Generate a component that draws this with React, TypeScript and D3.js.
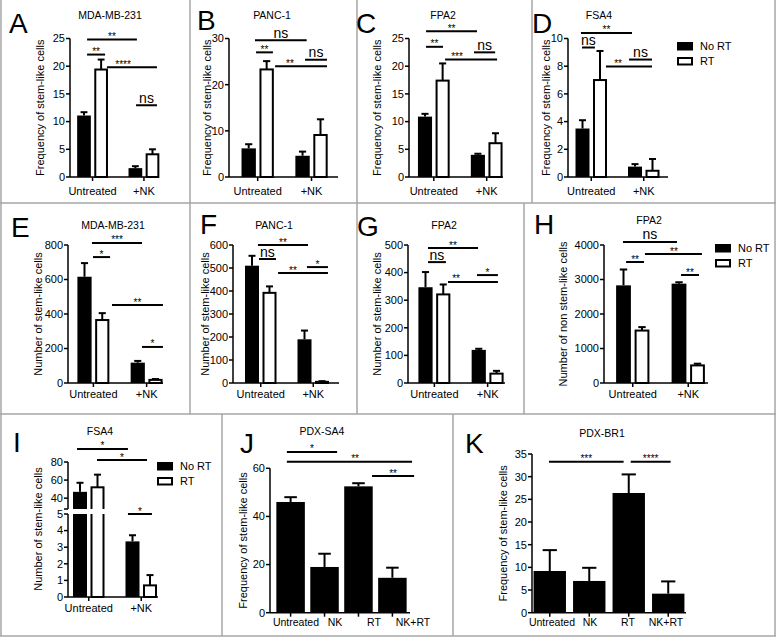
import React from "react";
import * as d3 from "d3";

const FONT = "'Liberation Sans', Arial, Helvetica, sans-serif";

// categories and legend
const groups2 = ["Untreated", "+NK"];
const groups4 = ["Untreated", "NK", "RT", "NK+RT"];
const seriesNames = ["No RT", "RT"];

// sig bars: [from, to, level, label, labelAt?]
// from/to in bar slots: 0,1 = Untreated (No RT, RT), 3,4 = +NK (No RT, RT)
type Sig = [number, number, number, string, number?];

// A - MDA-MB-231, frequency
const aNoRT = [11.1, 1.6];
const aNoRTErr = [11.7, 1.95];
const aRT = [19.4, 4.1];
const aRTErr = [21.2, 5.0];
const aTicks = [0, 5, 10, 15, 20, 25];
const aSig: Sig[] = [
  [0.18, 3.09, 24.8, "**"],
  [0.18, 1.23, 22.1, "**"],
  [1.34, 4.26, 19.8, "****", 2.28],
  [3.04, 4.26, 12.95, "ns"],
];

// B - PANC-1, frequency
const bNoRT = [6.2, 4.6];
const bNoRTErr = [7.1, 5.5];
const bRT = [23.3, 9.1];
const bRTErr = [25.1, 12.5];
const bTicks = [0, 10, 20, 30];
const bSig: Sig[] = [
  [0.35, 3.23, 29.6, "ns"],
  [0.41, 1.35, 27.0, "**"],
  [3.14, 4.36, 25.4, "ns"],
  [1.47, 4.36, 24.0, "**", 2.3],
];

// C - FPA2, frequency
const cNoRT = [10.9, 4.0];
const cNoRTErr = [11.4, 4.2];
const cRT = [17.4, 6.1];
const cRTErr = [20.5, 7.9];
const cTicks = [0, 5, 10, 15, 20, 25];
const cSig: Sig[] = [
  [0.06, 2.95, 26.3, "**"],
  [0.06, 1.02, 23.5, "**"],
  [2.78, 3.98, 22.5, "ns"],
  [1.14, 4.09, 21.2, "***", 1.82],
];

// D - FSA4, frequency
const dNoRT = [3.5, 0.75];
const dNoRTErr = [4.1, 0.93];
const dRT = [7.0, 0.45];
const dRTErr = [9.1, 1.3];
const dTicks = [0, 2, 4, 6, 8, 10];
const dSig: Sig[] = [
  [-0.09, 2.83, 10.4, "**"],
  [-0.03, 0.71, 9.35, "ns"],
  [2.66, 3.97, 8.48, "ns"],
  [1.34, 3.97, 7.97, "**", 2.03],
];

// E - MDA-MB-231, number
const eNoRT = [616, 118];
const eNoRTErr = [695, 128];
const eRT = [365, 18];
const eRTErr = [405, 23];
const eTicks = [0, 200, 400, 600, 800];
const eSig: Sig[] = [
  [0.42, 3.24, 812, "***"],
  [0.48, 1.44, 730, "*"],
  [1.55, 4.42, 452, "**"],
  [3.24, 4.42, 209, "*"],
];

// F - PANC-1, number
const fNoRT = [510, 190];
const fNoRTErr = [553, 228];
const fRT = [392, 5];
const fRTErr = [420, 8];
const fTicks = [0, 100, 200, 300, 400, 500, 600];
const fSig: Sig[] = [
  [0.34, 3.2, 600, "**"],
  [0.4, 1.37, 539, "ns"],
  [3.14, 4.34, 504, "*"],
  [1.49, 4.34, 478, "**", 2.34],
];

// G - FPA2, number
const gNoRT = [347, 120];
const gNoRTErr = [402, 124];
const gRT = [321, 34];
const gRTErr = [357, 44];
const gTicks = [0, 100, 200, 300, 400, 500];
const gSig: Sig[] = [
  [0.14, 2.96, 489, "**"],
  [0.14, 1.15, 438, "ns"],
  [2.9, 4.08, 391, "*"],
  [1.27, 4.08, 366, "**", 1.72],
];

// H - FPA2, non stem-like
const hNoRT = [2830, 2880];
const hNoRTErr = [3290, 2920];
const hRT = [1520, 510];
const hRTErr = [1620, 560];
const hTicks = [0, 1000, 2000, 3000, 4000];
const hSig: Sig[] = [
  [-0.03, 2.89, 4087, "ns"],
  [1.16, 4.24, 3739, "**", 2.73],
  [0.14, 1.11, 3507, "**"],
  [3.11, 4.08, 3130, "**"],
];

// I - FSA4, number, broken axis
const iNoRT = [47, 3.35];
const iNoRTErr = [57, 3.72];
const iRT = [52, 0.7];
const iRTErr = [66, 1.32];
const iTicksLo = [0, 1, 2, 3, 4, 5];
const iTicksHi = [40, 60, 80];
const iSig: [number, number, number, string, string][] = [
  [-0.17, 2.74, 94.4, "*", "hi"],
  [0.97, 3.83, 82.2, "*", "hi"],
  [2.74, 4.11, 5.0, "*", "lo"],
];

// J - PDX-SA4 (group index units)
const jMean = [46, 19, 52.5, 14.5];
const jErr = [48, 24.5, 53.8, 18.7];
const jTicks = [0, 20, 40, 60];
const jSig: Sig[] = [
  [-0.11, 1.37, 66.8, "*"],
  [-0.11, 3.58, 62.7, "**", 1.9],
  [2.4, 3.64, 56.8, "**"],
];

// K - PDX-BR1
const kMean = [9.2, 7.0, 26.4, 4.2];
const kErr = [13.8, 9.9, 30.5, 6.9];
const kTicks = [0, 5, 10, 15, 20, 25, 30, 35];
const kSig: Sig[] = [
  [-0.02, 1.87, 33.3, "***"],
  [2.05, 3.06, 33.3, "****"],
];

const FREQ = "Frequency of stem-like cells";
const NUM = "Number of stem-like cells";
const NONSTEM = "Number of non stem-like cells";

function Legend({ x, y }: { x: number; y: number }) {
  return (
    <g fontFamily={FONT} fontSize={11}>
      {seriesNames.map((n, i) => (
        <g key={n}>
          <rect x={x + 1} y={y + i * 15 + 1} width={14} height={6.5}
            fill={i ? "#fff" : "#000"} stroke="#000" strokeWidth={2} />
          <text x={x + 23} y={y + i * 15 + 8}>{n}</text>
        </g>
      ))}
    </g>
  );
}

function SigMark({ x1, x2, yy, label, lx }: any) {
  const ns = label === "ns";
  return (
    <g>
      <line x1={x1} x2={x2} y1={yy} y2={yy} stroke="#000" strokeWidth={2} />
      <text x={lx} y={ns ? yy - 2.5 : yy + 0.5} textAnchor="middle"
        fontSize={ns ? 14 : 10} fontFamily={FONT}>{label}</text>
    </g>
  );
}

function Head({ l }: any) {
  return (
    <g fontFamily={FONT}>
      <text x={l.letterX} y={l.letterY} fontSize={28}>{l.letter}</text>
      <text x={l.titleX} y={l.titleY} fontSize={10.5} textAnchor="middle">{l.title}</text>
      <text transform={`translate(${l.yLabelX},${l.yMid}) rotate(-90)`} fontSize={11}
        textAnchor="middle" dy="0.35em">{l.yLabel}</text>
    </g>
  );
}

function YAxis({ x, y, ticks, from, to }: any) {
  return (
    <g fontFamily={FONT} fontSize={11}>
      <line x1={x} x2={x} y1={y(from)} y2={y(to)} stroke="#000" strokeWidth={1.5} />
      {ticks.map((t: number) => (
        <g key={t}>
          <line x1={x - 4} x2={x} y1={y(t)} y2={y(t)} stroke="#000" strokeWidth={1.5} />
          <text x={x - 5} y={y(t)} dy="0.35em" textAnchor="end">{t}</text>
        </g>
      ))}
    </g>
  );
}

function Panel2({ d, l }: any) {
  const x = d3.scaleLinear().domain([0, 4]).range([l.c0, l.c4]);
  const top = d.ticks[d.ticks.length - 1];
  const y = d3.scaleLinear().domain([0, top]).range([l.y0, l.y1]);
  const bw = (x(1) - x(0)) * 0.8;
  const bars: any[] = [];
  d.series.forEach((s: any, si: number) =>
    s.mean.forEach((m: number, gi: number) =>
      bars.push({ slot: gi * 3 + si, m, e: s.err[gi], si })
    )
  );
  return (
    <g>
      <Head l={{ ...l, yMid: (l.y0 + l.y1) / 2 }} />
      {bars.map((b, i) => (
        <g key={i}>
          <line x1={x(b.slot)} x2={x(b.slot)} y1={y(b.m)} y2={y(b.e)} stroke="#000" strokeWidth={2} />
          <line x1={x(b.slot) - bw / 4} x2={x(b.slot) + bw / 4} y1={y(b.e)} y2={y(b.e)} stroke="#000" strokeWidth={2} />
          <rect x={x(b.slot) - bw / 2 + (b.si ? 1 : 0)} y={y(b.m)}
            width={bw - (b.si ? 2 : 0)} height={y(0) - y(b.m)}
            fill={b.si ? "#fff" : "#000"} stroke="#000" strokeWidth={b.si ? 2 : 0} />
        </g>
      ))}
      <YAxis x={l.axisX} y={y} ticks={d.ticks} from={0} to={top} />
      <line x1={l.axisX} x2={l.xEnd} y1={y(0)} y2={y(0)} stroke="#000" strokeWidth={1.5} />
      {groups2.map((g, gi) => (
        <g key={g} fontFamily={FONT} fontSize={11}>
          <line x1={x(gi * 3 + 0.5)} x2={x(gi * 3 + 0.5)} y1={y(0)} y2={y(0) + 4} stroke="#000" strokeWidth={1.5} />
          <text x={x(gi * 3 + 0.5)} y={l.xLabelY} textAnchor="middle">{g}</text>
        </g>
      ))}
      {d.sig.map((s: Sig, i: number) => (
        <SigMark key={i} x1={x(s[0])} x2={x(s[1])} yy={y(s[2])} label={s[3]}
          lx={x(s[4] ?? (s[0] + s[1]) / 2)} />
      ))}
      {l.legend && <Legend x={l.legend[0]} y={l.legend[1]} />}
    </g>
  );
}

function Panel4({ d, l }: any) {
  const x = d3.scaleBand().domain(groups4).range([l.b0, l.b1]).paddingInner(l.pin).paddingOuter(0.04);
  const bw = x.bandwidth();
  const cx = (i: number) => (x(groups4[0]) as number) + bw / 2 + i * x.step();
  const xl = d3.scalePoint().domain(groups4).range(l.labelRange);
  const top = d.ticks[d.ticks.length - 1];
  const y = d3.scaleLinear().domain([0, top]).range([l.y0, l.y1]);
  return (
    <g>
      <Head l={{ ...l, yMid: (l.y0 + l.y1) / 2 }} />
      {d.mean.map((m: number, i: number) => (
        <g key={i}>
          <line x1={cx(i)} x2={cx(i)} y1={y(m)} y2={y(d.err[i])} stroke="#000" strokeWidth={2} />
          <line x1={cx(i) - bw * 0.22} x2={cx(i) + bw * 0.22} y1={y(d.err[i])} y2={y(d.err[i])} stroke="#000" strokeWidth={2} />
          <rect x={x(groups4[i])} y={y(m)} width={bw} height={y(0) - y(m)} fill="#000" />
        </g>
      ))}
      <YAxis x={l.axisX} y={y} ticks={d.ticks} from={0} to={top} />
      <line x1={l.axisX} x2={l.xEnd} y1={y(0)} y2={y(0)} stroke="#000" strokeWidth={1.5} />
      {groups4.map((g, i) => (
        <g key={g} fontFamily={FONT} fontSize={l.xFont}>
          <line x1={cx(i)} x2={cx(i)} y1={y(0)} y2={y(0) + 4} stroke="#000" strokeWidth={1.5} />
          <text x={xl(g)} y={l.xLabelY} textAnchor="middle">{g}</text>
        </g>
      ))}
      {d.sig.map((s: Sig, i: number) => (
        <SigMark key={i} x1={cx(s[0])} x2={cx(s[1])} yy={y(s[2])} label={s[3]}
          lx={cx(s[4] ?? (s[0] + s[1]) / 2)} />
      ))}
    </g>
  );
}

function PanelI() {
  const l = {
    letter: "I", letterX: 13, letterY: 452, title: "FSA4", titleX: 100, titleY: 435,
    yLabel: NUM, yLabelX: 38, yMid: 529,
  };
  const x = d3.scaleLinear().domain([0, 4]).range([80, 150]);
  const yLo = d3.scaleLinear().domain([0, 5]).range([597, 514]);
  const yHi = d3.scaleLinear().domain([28, 80]).range([509, 462]);
  const bw = (x(1) - x(0)) * 0.8;
  const bars: any[] = [];
  [[iNoRT, iNoRTErr], [iRT, iRTErr]].forEach(([mean, err], si) =>
    mean.forEach((m, gi) => bars.push({ slot: gi * 3 + si, m, e: err[gi], si }))
  );
  const ys = (v: number, seg: string) => (seg === "hi" ? yHi(v) : yLo(v));
  return (
    <g>
      <defs>
        <clipPath id="iLo"><rect x={0} y={514} width={222} height={100} /></clipPath>
        <clipPath id="iHi"><rect x={0} y={420} width={222} height={89} /></clipPath>
      </defs>
      <Head l={l} />
      {bars.map((b, i) => {
        const hi = b.m > yHi.domain()[0];
        const errY = hi ? yHi(b.e) : yLo(b.e);
        const topY = hi ? yHi(b.m) : yLo(b.m);
        const bx = x(b.slot) - bw / 2 + (b.si ? 1 : 0);
        const w = bw - (b.si ? 2 : 0);
        const fill = b.si ? "#fff" : "#000";
        const sw = b.si ? 2 : 0;
        return (
          <g key={i}>
            <line x1={x(b.slot)} x2={x(b.slot)} y1={topY} y2={errY} stroke="#000" strokeWidth={2} />
            <line x1={x(b.slot) - bw / 4} x2={x(b.slot) + bw / 4} y1={errY} y2={errY} stroke="#000" strokeWidth={2} />
            <g clipPath="url(#iLo)">
              <rect x={bx} y={yLo(b.m)} width={w} height={yLo(0) - yLo(b.m)} fill={fill} stroke="#000" strokeWidth={sw} />
            </g>
            {hi && (
              <g clipPath="url(#iHi)">
                <rect x={bx} y={yHi(b.m)} width={w} height={yHi(yHi.domain()[0]) + 10 - yHi(b.m)} fill={fill} stroke="#000" strokeWidth={sw} />
              </g>
            )}
          </g>
        );
      })}
      <YAxis x={68} y={yLo} ticks={iTicksLo} from={0} to={5} />
      <YAxis x={68} y={yHi} ticks={iTicksHi} from={yHi.domain()[0]} to={80} />
      <line x1={64} x2={68} y1={yHi(yHi.domain()[0])} y2={yHi(yHi.domain()[0])} stroke="#000" strokeWidth={1.5} />
      <line x1={68} x2={158} y1={yLo(0)} y2={yLo(0)} stroke="#000" strokeWidth={1.5} />
      {groups2.map((g, gi) => (
        <g key={g} fontFamily={FONT} fontSize={11}>
          <line x1={x(gi * 3 + 0.5)} x2={x(gi * 3 + 0.5)} y1={yLo(0)} y2={yLo(0) + 4} stroke="#000" strokeWidth={1.5} />
          <text x={x(gi * 3 + 0.5)} y={612} textAnchor="middle">{g}</text>
        </g>
      ))}
      {iSig.map((s, i) => (
        <SigMark key={i} x1={x(s[0])} x2={x(s[1])} yy={ys(s[2], s[4])} label={s[3]}
          lx={x((s[0] + s[1]) / 2)} />
      ))}
      <Legend x={157} y={462} />
    </g>
  );
}

const row1 = { y0: 177, y1: 38.5, titleY: 19, xLabelY: 195 };
const row2 = { y0: 383, y1: 245, titleY: 229, xLabelY: 398 };

const panels2 = [
  {
    d: { ticks: aTicks, sig: aSig, series: [{ mean: aNoRT, err: aNoRTErr }, { mean: aRT, err: aRTErr }] },
    l: { ...row1, axisX: 70, xEnd: 158, c0: 84, c4: 152.5, letter: "A", letterX: 9, letterY: 33, title: "MDA-MB-231", titleX: 110, yLabel: FREQ, yLabelX: 40 },
  },
  {
    d: { ticks: bTicks, sig: bSig, series: [{ mean: bNoRT, err: bNoRTErr }, { mean: bRT, err: bRTErr }] },
    l: { ...row1, axisX: 229, xEnd: 338, c0: 248.7, c4: 320.5, letter: "B", letterX: 197, letterY: 30, title: "PANC-1", titleX: 272, yLabel: FREQ, yLabelX: 207 },
  },
  {
    d: { ticks: cTicks, sig: cSig, series: [{ mean: cNoRT, err: cNoRTErr }, { mean: cRT, err: cRTErr }] },
    l: { ...row1, axisX: 409, xEnd: 503, c0: 425, c4: 495.5, letter: "C", letterX: 356, letterY: 33, title: "FPA2", titleX: 443, yLabel: FREQ, yLabelX: 377 },
  },
  {
    d: { ticks: dTicks, sig: dSig, series: [{ mean: dNoRT, err: dNoRTErr }, { mean: dRT, err: dRTErr }] },
    l: { ...row1, axisX: 568, xEnd: 668, c0: 582.5, c4: 652.5, letter: "D", letterX: 532, letterY: 33, title: "FSA4", titleX: 599, yLabel: FREQ, yLabelX: 546, legend: [677, 42] },
  },
  {
    d: { ticks: eTicks, sig: eSig, series: [{ mean: eNoRT, err: eNoRTErr }, { mean: eRT, err: eRTErr }] },
    l: { ...row2, axisX: 68, xEnd: 163, c0: 84.5, c4: 155.5, letter: "E", letterX: 11, letterY: 237, title: "MDA-MB-231", titleX: 113, yLabel: NUM, yLabelX: 38 },
  },
  {
    d: { ticks: fTicks, sig: fSig, series: [{ mean: fNoRT, err: fNoRTErr }, { mean: fRT, err: fRTErr }] },
    l: { ...row2, axisX: 233, xEnd: 339, c0: 252, c4: 322, letter: "F", letterX: 200, letterY: 234, title: "PANC-1", titleX: 274, yLabel: NUM, yLabelX: 205 },
  },
  {
    d: { ticks: gTicks, sig: gSig, series: [{ mean: gNoRT, err: gNoRTErr }, { mean: gRT, err: gRTErr }] },
    l: { ...row2, axisX: 408, xEnd: 505, c0: 425.5, c4: 496.5, letter: "G", letterX: 357, letterY: 236, title: "FPA2", titleX: 444, yLabel: NUM, yLabelX: 377 },
  },
  {
    d: { ticks: hTicks, sig: hSig, series: [{ mean: hNoRT, err: hNoRTErr }, { mean: hRT, err: hRTErr }] },
    l: { ...row2, titleY: 224, axisX: 604, xEnd: 708, c0: 623.5, c4: 697.5, letter: "H", letterX: 534, letterY: 234, title: "FPA2", titleX: 649, yLabel: NONSTEM, yLabelX: 563, legend: [715, 244] },
  },
];

const panels4 = [
  {
    d: { ticks: jTicks, sig: jSig, mean: jMean, err: jErr },
    l: { y0: 612.7, y1: 468.3, axisX: 270, xEnd: 410, b0: 275, b1: 408, pin: 0.16, labelRange: [296, 413], xFont: 10.5, xLabelY: 626, letter: "J", letterX: 240, letterY: 453, title: "PDX-SA4", titleX: 322, titleY: 435, yLabel: FREQ, yLabelX: 243 },
  },
  {
    d: { ticks: kTicks, sig: kSig, mean: kMean, err: kErr },
    l: { y0: 612.7, y1: 454, axisX: 532, xEnd: 686, b0: 532, b1: 686, pin: 0.18, labelRange: [552, 666], xFont: 10.5, xLabelY: 626, letter: "K", letterX: 465, letterY: 453, title: "PDX-BR1", titleX: 602, titleY: 437, yLabel: FREQ, yLabelX: 503 },
  },
];

// panel frame lines
const frameH = [203, 414, 636];
const frameV: [number, number, number][] = [
  [190, 0, 203], [357, 0, 203], [532, 0, 203],
  [190, 203, 414], [357, 203, 414], [524, 203, 414],
  [222, 414, 636], [453, 414, 636],
  [1, 0, 636], [775, 0, 636],
];

export default function App() {
  return (
    <svg width={777} height={638} style={{ position: "absolute", left: 0, top: 0, background: "#fff" }}>
      <rect width={777} height={638} fill="#fff" />
      {frameH.map((y) => (
        <line key={y} x1={0} x2={776} y1={y} y2={y} stroke="#a6a6a6" strokeWidth={1.5} />
      ))}
      {frameV.map(([x, a, b], i) => (
        <line key={i} x1={x} x2={x} y1={a} y2={b} stroke="#a6a6a6" strokeWidth={1.5} />
      ))}
      {panels2.map((p, i) => <Panel2 key={i} d={p.d} l={p.l} />)}
      <PanelI />
      {panels4.map((p, i) => <Panel4 key={i} d={p.d} l={p.l} />)}
    </svg>
  );
}
